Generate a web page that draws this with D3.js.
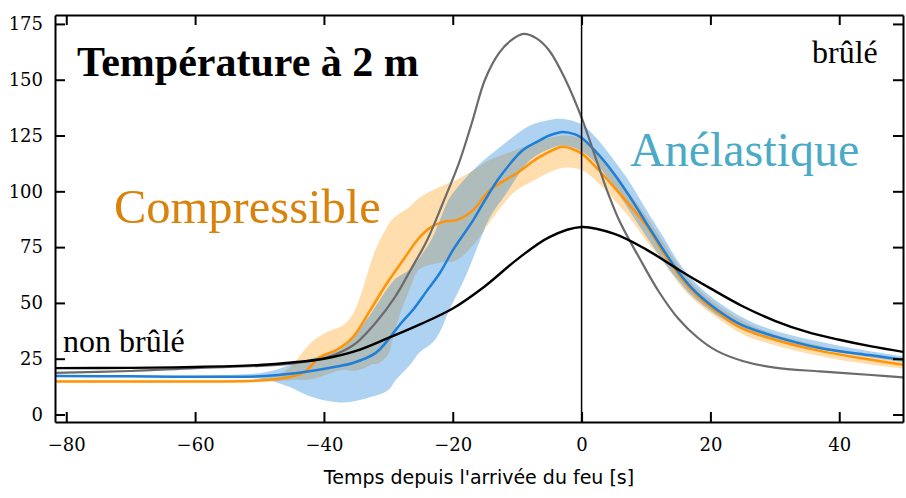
<!DOCTYPE html>
<html lang="fr">
<head>
<meta charset="UTF-8">
<title>Température à 2 m</title>
<style>
  body { margin: 0; background: #fff; }
  .axis path, .axis line { stroke: #000; stroke-width: 2; }
  .axis text { font-family: 'DejaVu Serif', serif; font-size: 18px; fill: #000; }
</style>
</head>
<body>
<script src="https://d3js.org/d3.v7.min.js"></script>
<script>
// ticks
let timeTicks = [-80, -60, -40, -20, 0, 20, 40];
let tempTicks = [0, 25, 50, 75, 100, 125, 150, 175];

// reference curves [t, T]
let blackCurve = [[-82, 20.8], [-70, 20.9], [-60, 21.3], [-50, 22.2], [-45, 23.3], [-40, 25], [-35, 28.5], [-30, 34.3], [-25, 40.5], [-20, 47.5],
  [-15, 57.5], [-10, 69.5], [-5, 79.5], [0, 84], [5, 81], [10, 74], [15, 65], [20, 56.5], [25, 48.5], [30, 42], [35, 37], [40, 33.5], [45, 30.5], [50, 28]];
let grayCurve = [[-82, 18.6], [-70, 19.5], [-60, 20.8], [-50, 21.8], [-45, 22.8], [-40, 25.2], [-37, 28.5], [-35, 32], [-32, 41], [-29, 52.5],
  [-26.5, 65], [-24, 78], [-21.5, 95], [-19, 113], [-17, 131], [-15, 150], [-12.8, 162], [-11, 167.5], [-9, 170.5], [-7, 168.5], [-5, 163],
  [-2.5, 150], [0, 133], [2.3, 114], [4, 100], [6, 86], [9, 70], [12, 55], [15, 43], [18, 34.5], [21, 28.5], [25, 24], [30, 21], [37, 19.3], [45, 17.7], [50, 16.6]];

// Compressible: mean and spread [t, low, high]
let compressibleMean = [[-82, 14.8], [-70, 14.8], [-60, 14.8], [-50, 15.2], [-46, 16.5], [-43.2, 18.6], [-40.6, 25.8], [-38, 29], [-35.5, 34.7],
  [-32.8, 46.8], [-30.2, 58.9], [-27.7, 69.2], [-25.5, 78.2], [-23.6, 83.5], [-21.5, 86.3], [-19.3, 87.2], [-16.8, 91.7], [-14.2, 100.6],
  [-10, 108.2], [-6.5, 115.4], [-3, 120], [-1.5, 119], [0, 117], [2.5, 110], [5, 102], [10.2, 84.1], [12.7, 72.5], [15, 63], [17, 56],
  [19, 50.5], [21, 46], [24.6, 39], [30, 33.5], [37, 28.5], [45, 24.5], [50, 22.2]];
let compressibleBand = [[-82, 14.3, 15.3], [-60, 14.3, 15.3], [-50, 14.6, 16], [-47, 15, 18], [-45, 15.5, 22], [-43, 15.5, 29], [-41.5, 16, 33.5],
  [-39.5, 18, 37], [-37, 20, 40], [-35.5, 19.5, 45], [-34, 20.5, 56], [-32.5, 22.5, 70], [-31.5, 23, 77], [-30, 27, 85], [-29.4, 33, 87.5],
  [-28.3, 44, 90], [-26.7, 56, 93], [-25.2, 65, 97], [-22, 68, 102], [-19.5, 69, 105], [-16.5, 77, 110], [-14.3, 86, 114], [-10.7, 99, 118],
  [-8, 104, 121], [-3, 110.5, 125], [0, 109.5, 123.5], [2.5, 104, 117], [5, 96.5, 109], [7.5, 88, 99], [10, 78, 89], [12.5, 69, 78],
  [15, 59, 67], [17, 52.5, 59.5], [20, 45.5, 51.5], [25, 36, 42], [30, 31, 36], [40, 24.5, 29], [50, 20.5, 24.5]];

// Anélastique: mean and spread [t, low, high]
let anelasticMean = [[-82, 17.3], [-70, 17.1], [-60, 16.9], [-50, 17.1], [-46, 18], [-42, 19.5], [-38, 21.5], [-35.5, 23.1], [-32, 27.5],
  [-29.7, 34.7], [-28, 41], [-26.2, 46.8], [-24, 55.5], [-22, 63.4], [-20, 73.5], [-16.8, 87.2], [-15, 96], [-12.7, 106.4], [-9.1, 118.5],
  [-7, 122], [-5, 125], [-2.9, 126.6], [-1, 125.5], [0, 124], [2.4, 117.2], [5, 108], [7.5, 97.5], [10, 86], [12.7, 73.7], [15, 64],
  [17, 57], [19, 51.5], [21, 47], [24.6, 40.5], [30, 35], [37, 29.8], [45, 26.5], [50, 24.5]];
let anelasticBand = [[-82, 16.8, 17.8], [-60, 16.4, 17.4], [-50, 16, 18.5], [-47.5, 14.5, 20], [-45.5, 12.5, 22], [-42, 8, 25], [-37, 5.4, 30],
  [-33, 7.6, 44], [-30, 11, 57], [-28.8, 15.7, 61], [-26.7, 22, 65], [-25.2, 27.7, 70], [-23.2, 32, 79], [-22, 37, 87], [-20.5, 47, 97],
  [-18, 62, 106], [-16.3, 74, 111], [-14.3, 88, 116], [-11.7, 99, 122], [-8, 114, 129.5], [-5, 119, 132], [-3, 120.5, 132.5], [0, 118, 130],
  [2.4, 112, 123.5], [5, 102, 114], [7.5, 91, 104], [10, 80, 92], [12.6, 69, 80], [15, 60, 68.5], [17, 53.5, 61], [20, 46.5, 53],
  [25, 38, 43.5], [30, 33, 37.5], [40, 27.8, 30.8], [50, 23.5, 26]];

let width = 906;
let height = 498;
let plot = { left: 55, top: 15, right: 903, bottom: 422 };

let xScale = d3.scaleLinear().domain([-81.75, 49.9]).range([plot.left, plot.right]);
let yScale = d3.scaleLinear().domain([-3.36, 179]).range([plot.bottom, plot.top]);

let svg = d3.select('body').append('svg')
    .attr('width', width)
    .attr('height', height)
    .style('display', 'block');

svg.append('clipPath').attr('id', 'clip')
    .append('rect')
    .attr('x', plot.left).attr('y', plot.top)
    .attr('width', plot.right - plot.left).attr('height', plot.bottom - plot.top);

let g = svg.append('g').attr('clip-path', 'url(#clip)');

let smooth = d3.curveCatmullRom.alpha(0.5);

let area = d3.area()
    .curve(smooth)
    .x(function(d) { return xScale(d[0]); })
    .y0(function(d) { return yScale(d[1]); })
    .y1(function(d) { return yScale(d[2]); });

let line = d3.line()
    .curve(smooth)
    .x(function(d) { return xScale(d[0]); })
    .y(function(d) { return yScale(d[1]); });

g.append('path').attr('d', area(compressibleBand))
    .attr('fill', 'rgb(255,149,0)').attr('fill-opacity', 0.32);
g.append('path').attr('d', area(anelasticBand))
    .attr('fill', 'rgb(30,130,215)').attr('fill-opacity', 0.36);

g.append('path').attr('d', line(compressibleMean))
    .attr('fill', 'none').attr('stroke', '#ff9408').attr('stroke-width', 2.5);
g.append('path').attr('d', line(anelasticMean))
    .attr('fill', 'none').attr('stroke', '#1f7fd8').attr('stroke-width', 2.5);
g.append('path').attr('d', line(grayCurve))
    .attr('fill', 'none').attr('stroke', '#6b6b6b').attr('stroke-width', 2.2);
g.append('path').attr('d', line(blackCurve))
    .attr('fill', 'none').attr('stroke', '#000').attr('stroke-width', 2.4);

// arrival of the fire
svg.append('line')
    .attr('x1', xScale(0)).attr('x2', xScale(0))
    .attr('y1', plot.top).attr('y2', plot.bottom)
    .attr('stroke', '#000').attr('stroke-width', 1.5);

// axes, ticks inward on all four sides
svg.append('g').attr('class', 'axis')
    .attr('transform', 'translate(0,' + plot.bottom + ')')
    .call(d3.axisBottom(xScale).tickValues(timeTicks).tickSizeInner(-10).tickSizeOuter(0).tickPadding(16));
svg.append('g').attr('class', 'axis')
    .attr('transform', 'translate(0,' + plot.top + ')')
    .call(d3.axisTop(xScale).tickValues(timeTicks).tickSizeInner(-10).tickSizeOuter(0).tickFormat(''));
svg.append('g').attr('class', 'axis')
    .attr('transform', 'translate(' + plot.left + ',0)')
    .call(d3.axisLeft(yScale).tickValues(tempTicks).tickSizeInner(-10).tickSizeOuter(0).tickPadding(12));
svg.append('g').attr('class', 'axis')
    .attr('transform', 'translate(' + plot.right + ',0)')
    .call(d3.axisRight(yScale).tickValues(tempTicks).tickSizeInner(-10).tickSizeOuter(0).tickFormat(''));

svg.append('text')
    .attr('x', (plot.left + plot.right) / 2).attr('y', 484)
    .attr('text-anchor', 'middle')
    .attr('font-family', "'DejaVu Sans', sans-serif").attr('font-size', '19px')
    .text("Temps depuis l'arrivée du feu [s]");

// annotations
let serif = "'Liberation Serif', serif";
svg.append('text').attr('x', 77).attr('y', 76)
    .attr('font-family', serif).attr('font-size', '42px').attr('font-weight', 'bold')
    .text('Température à 2 m');
svg.append('text').attr('x', 114).attr('y', 223)
    .attr('font-family', serif).attr('font-size', '48.5px').attr('fill', '#d9820c')
    .text('Compressible');
svg.append('text').attr('x', 630).attr('y', 166)
    .attr('font-family', serif).attr('font-size', '48px').attr('fill', '#4baac6')
    .text('Anélastique');
svg.append('text').attr('x', 812).attr('y', 63)
    .attr('font-family', serif).attr('font-size', '32px')
    .text('brûlé');
svg.append('text').attr('x', 63).attr('y', 352)
    .attr('font-family', serif).attr('font-size', '32px')
    .text('non brûlé');
</script>
</body>
</html>
